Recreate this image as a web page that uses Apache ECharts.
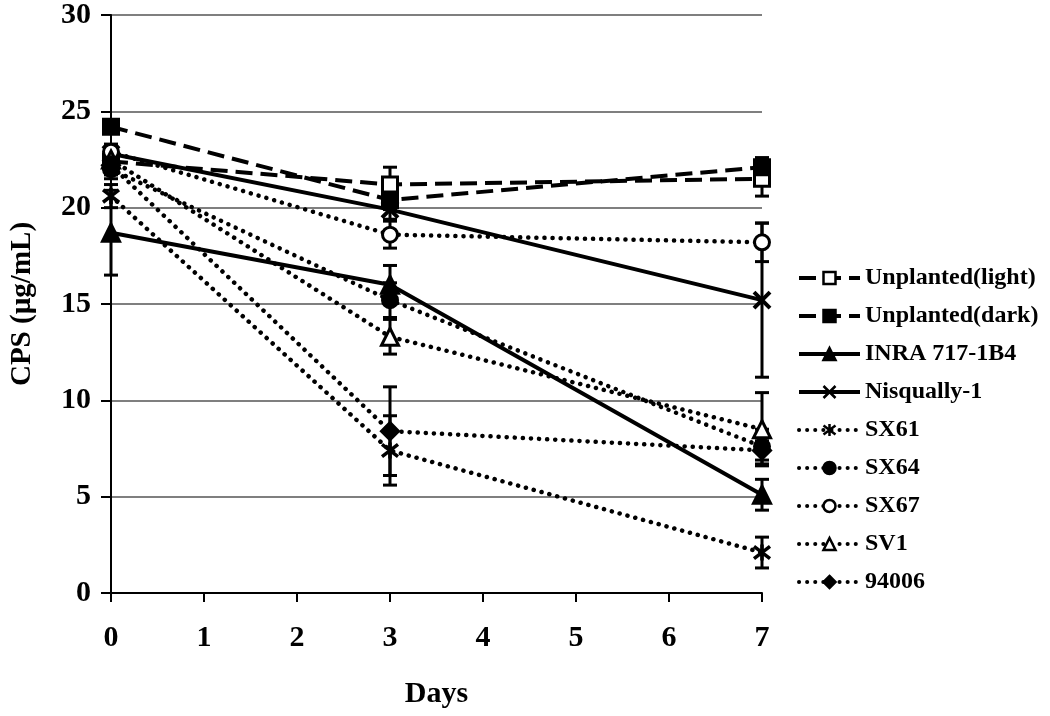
<!DOCTYPE html>
<html><head><meta charset="utf-8">
<script src="https://cdn.jsdelivr.net/npm/echarts@6/dist/echarts.min.js"></script>
<style>html,body{margin:0;padding:0;background:#fff}#c{width:1050px;height:716px}</style>
</head><body><div id="c"></div>
<script>
const days = [0, 3, 7];
const names = ['Unplanted(light)', 'Unplanted(dark)', 'INRA 717-1B4', 'Nisqually-1', 'SX61', 'SX64', 'SX67', 'SV1', '94006'];
const unplantedLight = [22.4, 21.2, 21.5];
const unplantedLightErr = [0.5, 0.9, 0.9];
const unplantedDark = [24.2, 20.4, 22.1];
const unplantedDarkErr = [0.3, 0.5, 0.5];
const inra = [18.7, 16.0, 5.1];
const inraErr = [2.2, 1.0, 0.8];
const nisqually = [22.8, 19.9, 15.2];
const nisquallyErr = [0.4, 0.5, 4.0];
const sx61 = [20.6, 7.4, 2.1];
const sx61Err = [0.6, 1.8, 0.8];
const sx64 = [22.0, 15.2, 7.6];
const sx64Err = [0.5, 0.9, 0.9];
const sx67 = [22.9, 18.6, 18.2];
const sx67Err = [0.4, 0.7, 1.0];
const sv1 = [22.5, 13.3, 8.5];
const sv1Err = [0.5, 0.9, 1.9];
const s94006 = [22.2, 8.4, 7.4];
const s94006Err = [0.5, 2.3, 0.5];

const values = [unplantedLight, unplantedDark, inra, nisqually, sx61, sx64, sx67, sv1, s94006];
const errs = [unplantedLightErr, unplantedDarkErr, inraErr, nisquallyErr, sx61Err, sx64Err, sx67Err, sv1Err, s94006Err];

const FONT = 'Liberation Serif';
const xPath = 'path://M0,0L10,10M10,0L0,10';
const starPath = 'path://M0,0L10,10M10,0L0,10M5,-1.5L5,11.5';
const dashed = [17, 8];
const dotted = [0.1, 8];
const styles = [
  {symbol: 'rect', size: 15, fill: '#fff', line: dashed, cap: 'butt', w: 4},
  {symbol: 'rect', size: 15, fill: '#000', line: dashed, cap: 'butt', w: 4},
  {symbol: 'triangle', size: 17, fill: '#000', line: 'solid', cap: 'butt', w: 4},
  {symbol: xPath, size: 16, fill: 'none', line: 'solid', cap: 'butt', w: 4, bw: 4},
  {symbol: starPath, size: 16, fill: 'none', line: dotted, cap: 'round', w: 4.5, bw: 3.5},
  {symbol: 'circle', size: 15, fill: '#000', line: dotted, cap: 'round', w: 4.5},
  {symbol: 'circle', size: 15, fill: '#fff', line: dotted, cap: 'round', w: 4.5},
  {symbol: 'triangle', size: 17, fill: '#fff', line: dotted, cap: 'round', w: 4.5},
  {symbol: 'diamond', size: 17, fill: '#000', line: dotted, cap: 'round', w: 4.5}
];

const series = [];
values.forEach((vals, i) => {
  const st = styles[i];
  series.push({
    name: names[i], type: 'line', data: days.map((d, k) => [d, vals[k]]),
    symbol: st.symbol, symbolSize: st.size, showAllSymbol: true, z: 3,
    lineStyle: {color: '#000', width: st.w, type: st.line, cap: st.cap},
    itemStyle: {color: st.fill === 'none' ? '#000' : st.fill, borderColor: '#000', borderWidth: st.bw || 3, borderType: 'solid'},
    emphasis: {disabled: true}
  });
});
const errData = [];
values.forEach((vals, i) => {
  days.forEach((d, k) => errData.push([d, vals[k] - errs[i][k], vals[k] + errs[i][k]]));
});
series.push({
  name: 'err', type: 'custom', z: 2, data: errData,
  renderItem: function (params, api) {
    const x = api.value(0);
    const lo = api.coord([x, api.value(1)]);
    const hi = api.coord([x, api.value(2)]);
    const cw = 7;
    const st = {stroke: '#000', lineWidth: 3};
    return {type: 'group', children: [
      {type: 'line', shape: {x1: lo[0], y1: lo[1], x2: hi[0], y2: hi[1]}, style: st},
      {type: 'line', shape: {x1: lo[0] - cw, y1: lo[1], x2: lo[0] + cw, y2: lo[1]}, style: st},
      {type: 'line', shape: {x1: hi[0] - cw, y1: hi[1], x2: hi[0] + cw, y2: hi[1]}, style: st}
    ]};
  },
  encode: {x: 0, y: [1, 2]}
});

const chart = echarts.init(document.getElementById('c'));
chart.setOption({
  animation: false,
  backgroundColor: '#fff',
  grid: {left: 109, right: 288, top: 9, bottom: 123},
  legend: {
    data: names, orient: 'vertical', left: 792, top: 261, itemGap: 14,
    itemWidth: 61, itemHeight: 15,
    lineStyle: {width: 4},
    itemStyle: {borderWidth: 2.5},
    textStyle: {fontFamily: FONT, fontWeight: 'bold', fontSize: 24, color: '#000'}
  },
  xAxis: {
    type: 'value', min: 0, max: 7, interval: 1,
    name: 'Days', nameLocation: 'middle', nameGap: 86,
    nameTextStyle: {fontFamily: FONT, fontWeight: 'bold', fontSize: 30, color: '#000'},
    axisLine: {lineStyle: {color: '#000', width: 2}},
    axisTick: {show: true, length: 9, lineStyle: {color: '#000', width: 2}},
    axisLabel: {fontFamily: FONT, fontWeight: 'bold', fontSize: 30, color: '#000', margin: 30},
    splitLine: {show: false}
  },
  yAxis: {
    type: 'value', min: 0, max: 30, interval: 5,
    name: 'CPS (µg/mL)', nameLocation: 'middle', nameGap: 74, nameRotate: 90,
    nameTextStyle: {fontFamily: FONT, fontWeight: 'bold', fontSize: 29, color: '#000'},
    axisLine: {show: true, lineStyle: {color: '#000', width: 2}},
    axisTick: {show: true, length: 10, lineStyle: {color: '#000', width: 2}},
    axisLabel: {fontFamily: FONT, fontWeight: 'bold', fontSize: 30, color: '#000', margin: 20},
    splitLine: {show: true, lineStyle: {color: '#555', width: 1.5}}
  },
  series: series
});
</script></body></html>
